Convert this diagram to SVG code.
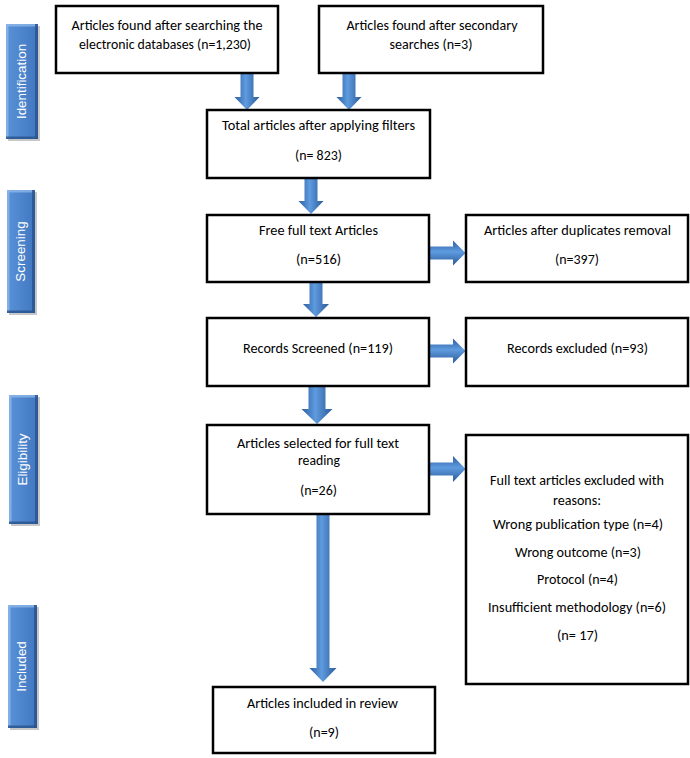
<svg xmlns="http://www.w3.org/2000/svg" width="690" height="758" viewBox="0 0 690 758">
<defs>
<linearGradient id="gv" x1="0" y1="0" x2="1" y2="0">
<stop offset="0" stop-color="#2E5E9F"/>
<stop offset="0.45" stop-color="#5E9BDF"/>
<stop offset="1" stop-color="#2B5A98"/>
</linearGradient>
<linearGradient id="gh" x1="0" y1="0" x2="0" y2="1">
<stop offset="0" stop-color="#2E5E9F"/>
<stop offset="0.45" stop-color="#5E9BDF"/>
<stop offset="1" stop-color="#2B5A98"/>
</linearGradient>
<linearGradient id="gt" x1="0" y1="0" x2="1" y2="0">
<stop offset="0" stop-color="#5A92D8"/>
<stop offset="1" stop-color="#4077C0"/>
</linearGradient>
</defs>
<style>
.box{fill:#fff;stroke:#000;stroke-width:2.5}
.t{font-family:Carlito,Lato,"Liberation Sans",sans-serif;font-size:14px;fill:#000;text-anchor:middle}
.tab{fill:url(#gt)}
.sh{fill:#000;opacity:0.22}
.hl{fill:#8DB6EA;opacity:0.8}
.dk{fill:#2A558F;opacity:0.85}
.tl{font-family:"Liberation Sans",Arial,sans-serif;font-size:13.4px;fill:#fff;text-anchor:middle}
.av{fill:url(#gv)}
.ah{fill:url(#gh)}
.as{fill:#000;opacity:0.15}
</style>

<g id="tab-identification">
<rect class="sh" x="8" y="26" width="32" height="115"/>
<rect class="tab" x="6" y="24" width="32" height="115"/>
<rect class="hl" x="6" y="24" width="32" height="2.5"/>
<rect class="hl" x="6" y="24" width="2.5" height="115"/>
<rect class="dk" x="35" y="24" width="3" height="115"/>
<rect class="dk" x="6" y="136.5" width="32" height="2.5"/>
<text class="tl" transform="translate(26,81.5) rotate(-90)">Identification</text>
</g>
<g id="tab-screening">
<rect class="sh" x="9" y="192" width="28" height="123"/>
<rect class="tab" x="7" y="190" width="28" height="123"/>
<rect class="hl" x="7" y="190" width="28" height="2.5"/>
<rect class="hl" x="7" y="190" width="2.5" height="123"/>
<rect class="dk" x="32" y="190" width="3" height="123"/>
<rect class="dk" x="7" y="310.5" width="28" height="2.5"/>
<text class="tl" transform="translate(25,251.5) rotate(-90)">Screening</text>
</g>
<g id="tab-eligibility">
<rect class="sh" x="11" y="397" width="29" height="129"/>
<rect class="tab" x="9" y="395" width="29" height="129"/>
<rect class="hl" x="9" y="395" width="29" height="2.5"/>
<rect class="hl" x="9" y="395" width="2.5" height="129"/>
<rect class="dk" x="35" y="395" width="3" height="129"/>
<rect class="dk" x="9" y="521.5" width="29" height="2.5"/>
<text class="tl" transform="translate(26.5,459.5) rotate(-90)">Eligibility</text>
</g>
<g id="tab-included">
<rect class="sh" x="10" y="607" width="29" height="123"/>
<rect class="tab" x="8" y="605" width="29" height="123"/>
<rect class="hl" x="8" y="605" width="29" height="2.5"/>
<rect class="hl" x="8" y="605" width="2.5" height="123"/>
<rect class="dk" x="34" y="605" width="3" height="123"/>
<rect class="dk" x="8" y="725.5" width="29" height="2.5"/>
<text class="tl" transform="translate(25.5,666.5) rotate(-90)">Included</text>
</g>

<g id="connectors">
<path class="av" d="M240.5,74 H253.5 V97 H259.5 L247,110 L234.5,97 H240.5 Z"/>
<path class="av" d="M342.5,74 H355.5 V97 H361.5 L349,110 L336.5,97 H342.5 Z"/>
<path class="av" d="M304.5,179 H317.5 V201 H323.5 L311,214 L298.5,201 H304.5 Z"/>
<path class="av" d="M309.5,283 H322.5 V304 H329 L316,317 L303,304 H309.5 Z"/>
<path class="av" d="M308.5,387 H325.5 V409 H332.5 L317,424 L301.5,409 H308.5 Z"/>
<path class="av" d="M316.5,515 H329.5 V668 H336.5 L323,682 L309.5,668 H316.5 Z"/>
<path class="ah" d="M430,246.5 V259.5 H453 V265.5 L465.5,253 L453,240.5 V246.5 Z"/>
<path class="ah" d="M430,344.5 V357.5 H453 V363.5 L465.5,351 L453,338.5 V344.5 Z"/>
<path class="ah" d="M430,462.5 V475.5 H453 V482 L465.5,469 L453,456 V462.5 Z"/>
</g>

<g id="n-databases">
<rect class="box" x="56" y="6" width="222" height="67"/>
<text class="t" x="167" y="30" textLength="191" lengthAdjust="spacingAndGlyphs">Articles found after searching the</text>
<text class="t" x="165" y="49" textLength="172" lengthAdjust="spacingAndGlyphs">electronic databases (n=1,230)</text>
</g>
<g id="n-secondary">
<rect class="box" x="319" y="6" width="224" height="67"/>
<text class="t" x="432" y="30" textLength="171" lengthAdjust="spacingAndGlyphs">Articles found after secondary</text>
<text class="t" x="431" y="49" textLength="83" lengthAdjust="spacingAndGlyphs">searches (n=3)</text>
</g>
<g id="n-total">
<rect class="box" x="207" y="110" width="223" height="68"/>
<text class="t" x="318.5" y="130" textLength="193" lengthAdjust="spacingAndGlyphs">Total articles after applying filters</text>
<text class="t" x="318.5" y="160" textLength="47" lengthAdjust="spacingAndGlyphs">(n= 823)</text>
</g>
<g id="n-free">
<rect class="box" x="207" y="215" width="222" height="67"/>
<text class="t" x="318.5" y="235" textLength="119" lengthAdjust="spacingAndGlyphs">Free full text Articles</text>
<text class="t" x="318.5" y="264" textLength="45" lengthAdjust="spacingAndGlyphs">(n=516)</text>
</g>
<g id="n-duplicates">
<rect class="box" x="466" y="215" width="222" height="67"/>
<text class="t" x="577.5" y="235" textLength="187" lengthAdjust="spacingAndGlyphs">Articles after duplicates removal</text>
<text class="t" x="577" y="264" textLength="44" lengthAdjust="spacingAndGlyphs">(n=397)</text>
</g>
<g id="n-screened">
<rect class="box" x="207" y="318" width="222" height="68"/>
<text class="t" x="318" y="352.5" textLength="150" lengthAdjust="spacingAndGlyphs">Records Screened (n=119)</text>
</g>
<g id="n-excluded">
<rect class="box" x="466" y="318" width="222" height="68"/>
<text class="t" x="577.5" y="352.5" textLength="141" lengthAdjust="spacingAndGlyphs">Records excluded (n=93)</text>
</g>
<g id="n-selected">
<rect class="box" x="207" y="425" width="222" height="89"/>
<text class="t" x="318" y="448" textLength="162" lengthAdjust="spacingAndGlyphs">Articles selected for full text</text>
<text class="t" x="319" y="465" textLength="42" lengthAdjust="spacingAndGlyphs">reading</text>
<text class="t" x="318.5" y="495" textLength="37" lengthAdjust="spacingAndGlyphs">(n=26)</text>
</g>
<g id="n-fulltext-excluded">
<rect class="box" x="466" y="435" width="222" height="249"/>
<text class="t" x="577" y="485" textLength="174" lengthAdjust="spacingAndGlyphs">Full text articles excluded with</text>
<text class="t" x="577" y="505" textLength="48" lengthAdjust="spacingAndGlyphs">reasons:</text>
<text class="t" x="578" y="529" textLength="170" lengthAdjust="spacingAndGlyphs">Wrong publication type (n=4)</text>
<text class="t" x="578" y="557" textLength="126" lengthAdjust="spacingAndGlyphs">Wrong outcome (n=3)</text>
<text class="t" x="577.5" y="584" textLength="81" lengthAdjust="spacingAndGlyphs">Protocol (n=4)</text>
<text class="t" x="577" y="612" textLength="178" lengthAdjust="spacingAndGlyphs">Insufficient methodology (n=6)</text>
<text class="t" x="577.5" y="640" textLength="41" lengthAdjust="spacingAndGlyphs">(n= 17)</text>
</g>
<g id="n-included">
<rect class="box" x="213" y="687" width="222" height="66"/>
<text class="t" x="322.5" y="708" textLength="151" lengthAdjust="spacingAndGlyphs">Articles included in review</text>
<text class="t" x="324" y="737" textLength="30" lengthAdjust="spacingAndGlyphs">(n=9)</text>
</g>
</svg>
